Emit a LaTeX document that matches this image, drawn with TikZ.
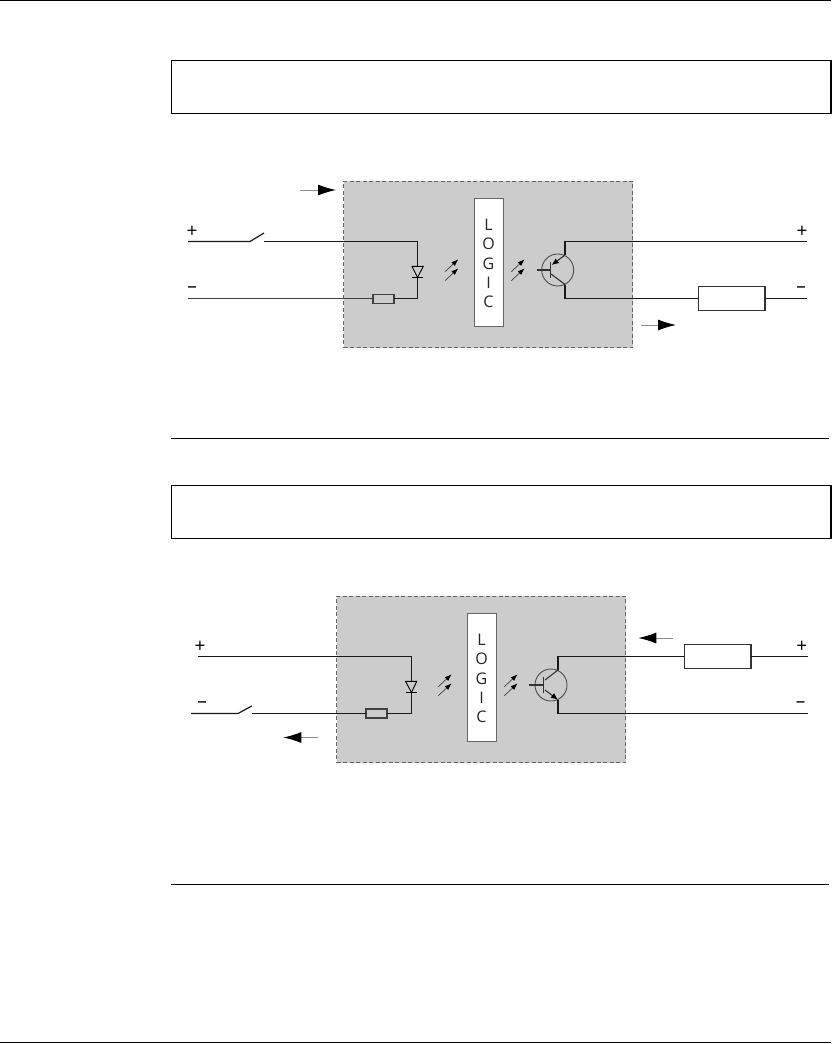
\documentclass[tikz,border=0pt]{standalone}
\usepackage{fontspec}
\setmainfont{Open Sans}
\usetikzlibrary{arrows.meta}
\definecolor{panelgray}{HTML}{CCCCCC}
\definecolor{edgegray}{HTML}{666666}
\tikzset{
  every node/.style={outer sep=0pt},
  wire/.style={line width=1.2pt,black!90},
  hr/.style={line width=0.9pt,black},
  headbox/.style={draw=black,line width=1.2pt,fill=white,inner sep=0pt,anchor=north west,minimum height=53pt,minimum width=659.5pt},
  panel/.style={draw=edgegray,dashed,dash pattern=on 4pt off 2.5pt,line width=0.9pt,fill=panelgray,inner sep=0pt,anchor=north west,minimum width=289pt,minimum height=166.5pt},
  logicbox/.style={draw=edgegray,line width=0.9pt,fill=white,inner sep=0pt,anchor=north west,minimum width=29pt,minimum height=127.5pt},
  smallres/.style={draw=black!75,line width=1.1pt,fill=panelgray,inner sep=0pt,minimum width=21pt,minimum height=9pt},
  bigres/.style={draw=black!80,line width=1.2pt,fill=white,inner sep=0pt,minimum width=66.5pt,minimum height=23.3pt},
  letter/.style={font=\fontsize{16pt}{16pt}\selectfont,text=black!85,inner sep=0pt},
  sign/.style={font=\fontsize{19pt}{19pt}\selectfont,text=black,inner sep=0pt},
  current/.style={line width=1pt,black!45,-{Latex[black,length=18pt,width=11pt]}},
  light/.style={line width=0.7pt,black!75,-{Latex[black,length=7pt,width=5pt]}},
  base/.style={line width=1.2pt,black!80},
  tran/.style={line width=0.9pt,black!70,draw,circle,inner sep=0pt,minimum size=32pt},
  tarrow/.style={line width=1.1pt,black!80,-{Latex[black,length=7pt,width=6pt]}},
  dio/.style={line width=0.9pt,black}
}
\begin{document}
\begin{tikzpicture}[x=1pt,y=-1pt]
\useasboundingbox (0,0) rectangle (831,1044);
\fill[white] (0,0) rectangle (831,1044);
% page rules
\coordinate (tl) at (0,0.5); \coordinate (tr) at (831,0.5);
\coordinate (bl) at (0,1042.5); \coordinate (br) at (831,1042.5);
\coordinate (m1l) at (171,438.5); \coordinate (m1r) at (829,438.5);
\coordinate (m2l) at (171,884); \coordinate (m2r) at (829,884);
\draw[hr] (tl)--(tr); \draw[hr] (bl)--(br);
\draw[hr] (m1l)--(m1r); \draw[hr] (m2l)--(m2r);
\node[headbox] (h1) at (171.5,60.5) {};
\node[headbox] (h2) at (171.5,485.5) {};

% ===== first block =====
\node[panel] (p1) at (343.5,181) {};
\node[logicbox] (l1) at (474.5,198.5) {};
\node[letter] (l1a) at (488.5,225) {L};
\node[letter] (l1b) at (488.5,244) {O};
\node[letter] (l1c) at (488.5,263.5) {G};
\node[letter] (l1d) at (488.5,283) {I};
\node[letter] (l1e) at (488.5,302) {C};
\node[sign] (a1p) at (192,232) {+};
\node[sign] (a1m) at (192,290) {–};
\node[sign] (b1p) at (802,232) {+};
\node[sign] (b1m) at (801,290) {–};
\coordinate (w1a) at (188,241.5);
\coordinate (w1b) at (250,241.5);
\coordinate (w1c) at (264,233);
\coordinate (w1d) at (263.5,241.5);
\coordinate (w1e) at (417.5,241.5);
\coordinate (w1f) at (417.5,298.8);
\coordinate (w1g) at (188,298.8);
\node[smallres] (r1) at (383.5,298.8) {};
\draw[wire] (w1a)--(w1b)--(w1c);
\draw[wire] (w1d)--(w1e)--(w1f)--(r1.east);
\draw[wire,line width=1.3pt,black!75] (w1g)--(r1.west);
% diode
\fill[panelgray] (412,266.3)--(423.3,266.3)--(417.5,277.5)--cycle;
\draw[dio] (412,266.3)--(423.3,266.3)--(417.5,277.5)--cycle;
\draw[dio] (412,277.5)--(423.3,277.5);
% light arrows
\foreach \x in {445,511.3} {
  \draw[light] (\x,271.7)--(\x+13.3,259.3);
  \draw[light] (\x,280.7)--(\x+13.3,268.3);
}
% transistor
\node[tran] (t1) at (557.7,270) {};
\coordinate (t1b) at (536.7,270);
\coordinate (t1n) at (550.7,270);
\draw[base] (t1b)--(t1n);
\draw[base] (550.7,261.7)--(550.7,277.5);
\draw[tarrow] (565,255)--(551.7,265);
\draw[line width=1.1pt,black!80] (551,274)--(565,284.5);
\coordinate (c1a) at (565,255);
\coordinate (c1b) at (565,241.5);
\coordinate (c1c) at (807,241.5);
\coordinate (e1a) at (565,284.5);
\coordinate (e1b) at (565,298.5);
\coordinate (e1c) at (807,298.5);
\node[bigres] (R1) at (731.8,298.5) {};
\draw[wire] (c1a)--(c1b)--(c1c);
\draw[wire] (e1a)--(e1b)--(R1.west);
\draw[wire] (R1.east)--(e1c);
% current arrows
\coordinate (i1a) at (300,190); \coordinate (i1b) at (336,190);
\coordinate (i2a) at (641,325); \coordinate (i2b) at (676,325);
\draw[current] (i1a)--(i1b);
\draw[current] (i2a)--(i2b);

% ===== second block =====
\node[panel] (p2) at (336.5,596) {};
\node[logicbox] (l2) at (467.5,613.5) {};
\node[letter] (l2a) at (481.5,640) {L};
\node[letter] (l2b) at (481.5,659) {O};
\node[letter] (l2c) at (481.5,678.5) {G};
\node[letter] (l2d) at (481.5,698) {I};
\node[letter] (l2e) at (481.5,717) {C};
\node[sign] (a2p) at (200,647) {+};
\node[sign] (a2m) at (202,705) {–};
\node[sign] (b2p) at (801.7,647) {+};
\node[sign] (b2m) at (800.5,705) {–};
\coordinate (w2a) at (197.7,656.5);
\coordinate (w2e) at (411.5,656.5);
\coordinate (w2f) at (411.5,713.5);
\coordinate (w2g) at (191,713.5);
\coordinate (w2h) at (238,713.5);
\coordinate (w2i) at (251.7,706);
\coordinate (w2j) at (251.5,713.5);
\node[smallres] (r2) at (376.5,713.5) {};
\draw[wire] (w2a)--(w2e)--(w2f)--(r2.east);
\draw[wire] (w2g)--(w2h)--(w2i);
\draw[wire] (w2j)--(r2.west);
% diode
\fill[panelgray] (405.5,681.3)--(416.7,681.3)--(411.5,692.5)--cycle;
\draw[dio] (405.5,681.3)--(416.7,681.3)--(411.5,692.5)--cycle;
\draw[dio] (405.5,692.5)--(416.7,692.5);
% light arrows
\foreach \x in {438.3,504.3} {
  \draw[light] (\x,686.7)--(\x+13.3,674.3);
  \draw[light] (\x,695.7)--(\x+13.3,683.3);
}
% transistor
\node[tran] (t2) at (551,685) {};
\coordinate (t2b) at (529.3,685);
\coordinate (t2n) at (543.3,685);
\draw[base] (t2b)--(t2n);
\draw[base] (543.3,676.7)--(543.3,692.5);
\draw[line width=1.1pt,black!80] (545,680)--(558,670);
\draw[tarrow] (545,690)--(558,699.7);
\coordinate (c2a) at (558,670);
\coordinate (c2b) at (558,656.5);
\coordinate (c2c) at (807.7,656.5);
\coordinate (e2a) at (558,699.7);
\coordinate (e2b) at (558,713.5);
\coordinate (e2c) at (807.7,713.5);
\node[bigres] (R2) at (717.8,656.5) {};
\draw[wire] (c2a)--(c2b)--(R2.west);
\draw[wire] (R2.east)--(c2c);
\draw[wire] (e2a)--(e2b)--(e2c);
% current arrows
\coordinate (i3a) at (672.7,638); \coordinate (i3b) at (638.3,638);
\coordinate (i4a) at (318,737.5); \coordinate (i4b) at (283.3,737.5);
\draw[current] (i3a)--(i3b);
\draw[current] (i4a)--(i4b);
\end{tikzpicture}
\end{document}
